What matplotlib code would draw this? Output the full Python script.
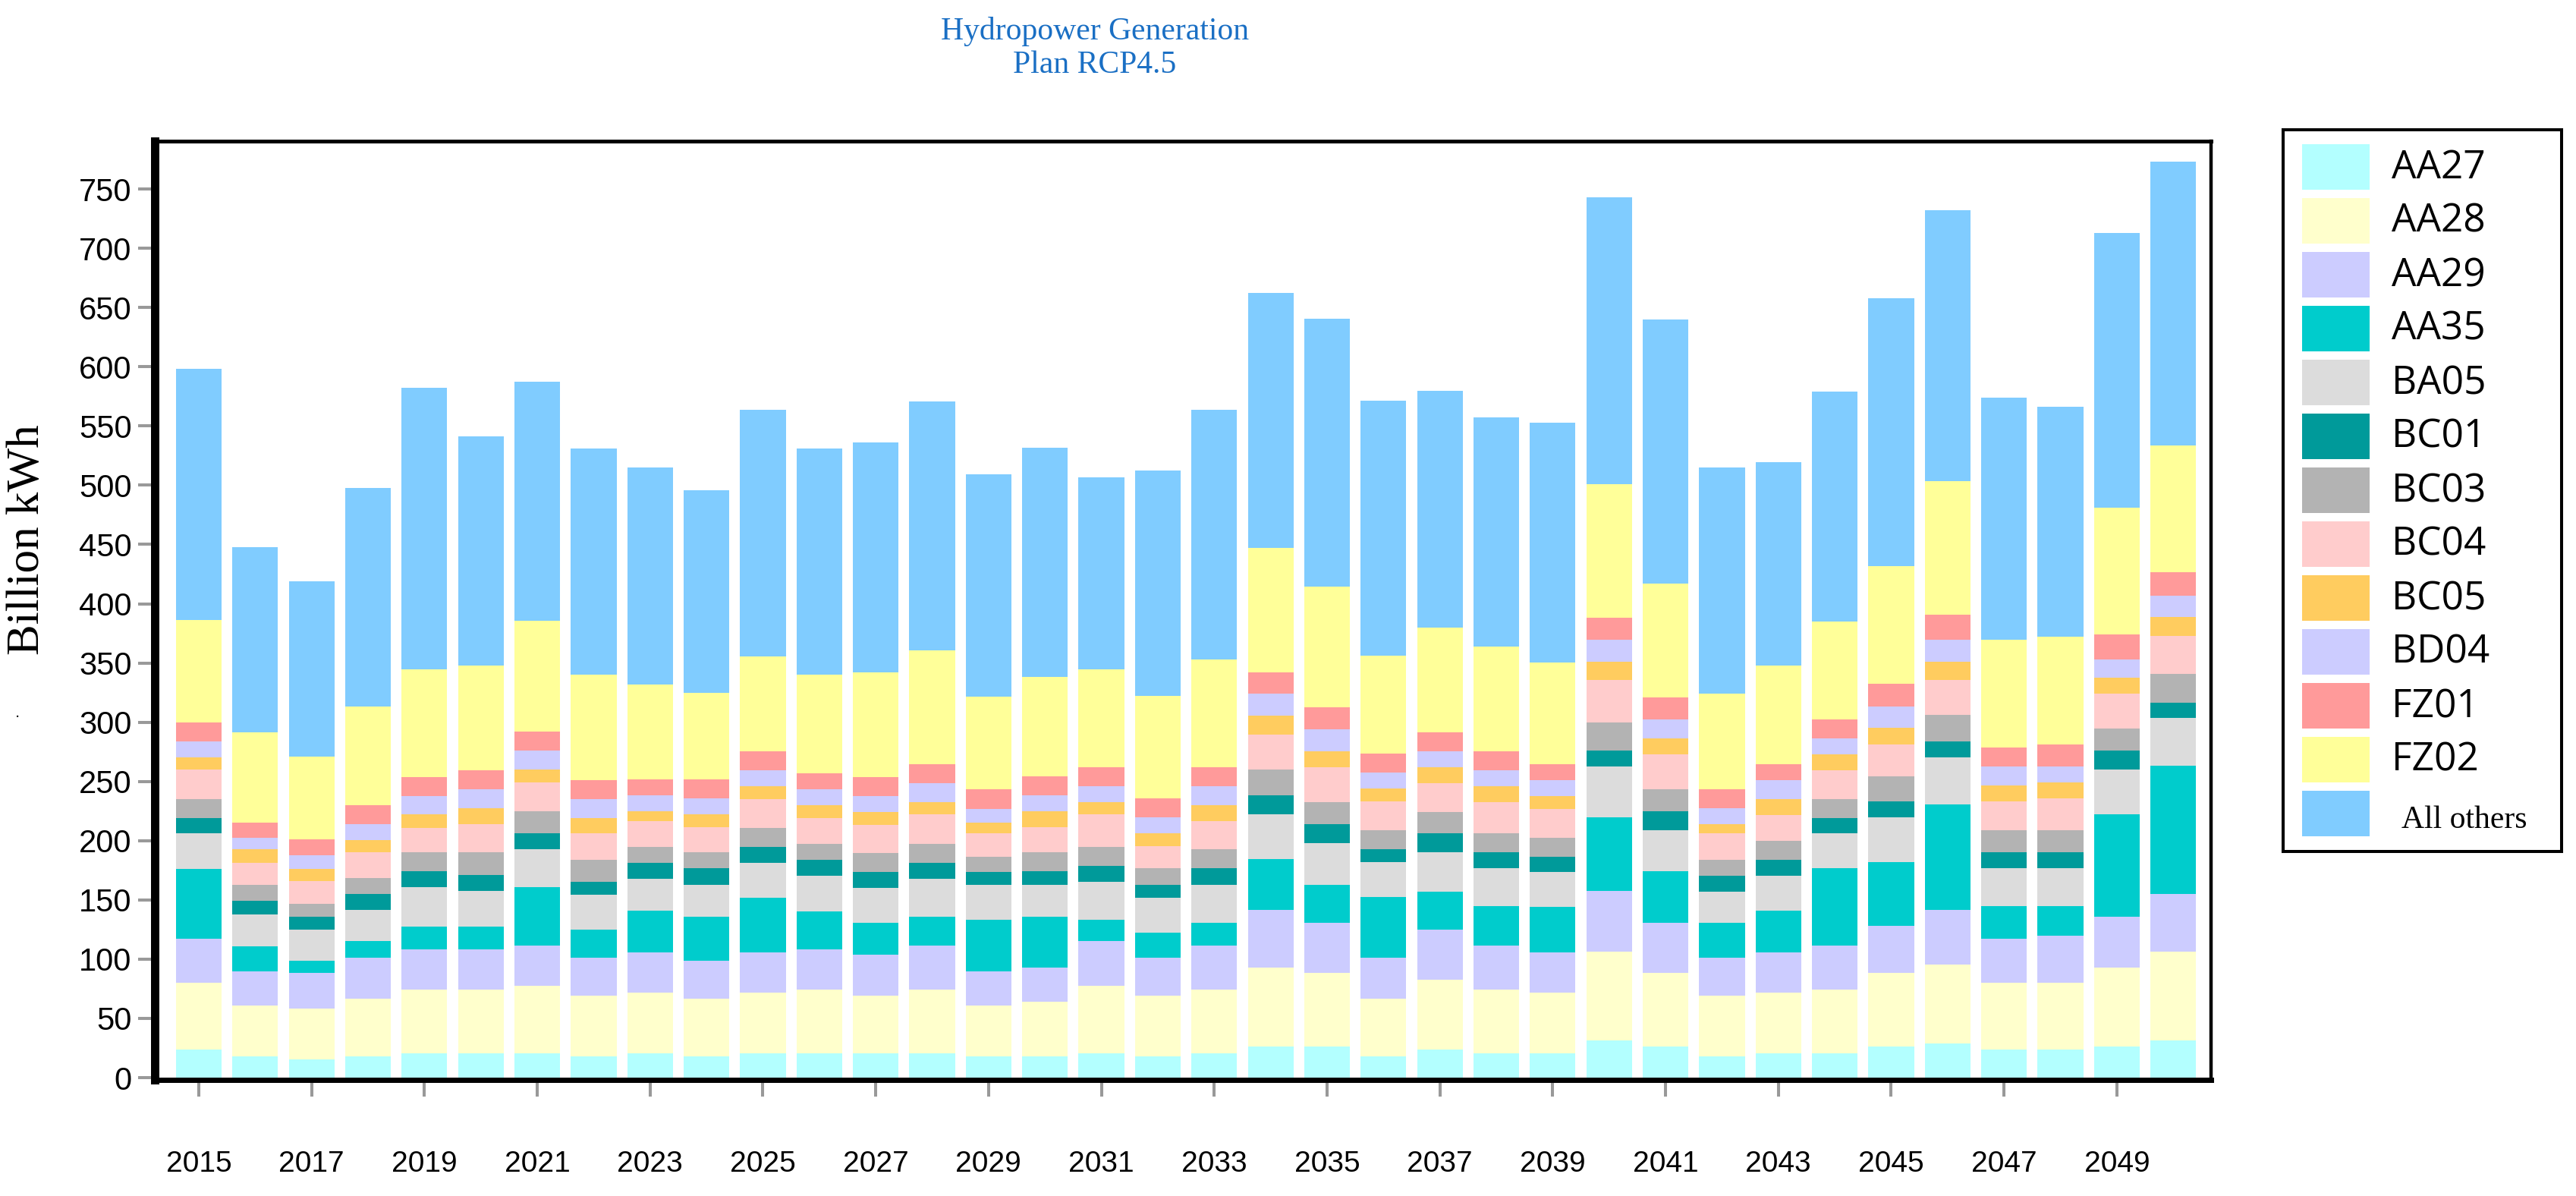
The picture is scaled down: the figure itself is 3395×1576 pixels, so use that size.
import numpy as np
import matplotlib
matplotlib.use('Agg')
import matplotlib.pyplot as plt
from matplotlib.patches import Rectangle

# data (billion kWh)
years = list(range(2015, 2051))
series = ['AA27', 'AA28', 'AA29', 'AA35', 'BA05', 'BC01', 'BC03',
          'BC04', 'BC05', 'BD04', 'FZ01', 'FZ02', 'All others']
colors = ['#b3ffff', '#ffffcc', '#ccccff', '#00cccc', '#dcdcdc', '#009a9a',
          '#b3b3b3', '#ffcccc', '#ffcc5f', '#ccccff', '#ff9a9a', '#ffff99', '#80ccff']

AA27 = [24, 18, 15.5, 18, 20.5, 20.5, 20.5, 18, 20.5, 18, 20.5, 20.5, 20.5, 20.5, 18, 18, 20.5, 18,
        20.5, 26.5, 26.5, 18, 24, 20.5, 20.5, 31.5, 26.5, 18, 20.5, 20.5, 26.5, 29, 24, 24, 26.5, 31.5]
AA28 = [56, 43, 43, 48.5, 54, 54, 57, 51.5, 51.5, 48.5, 51.5, 54, 49, 54, 43, 46, 57, 51.5,
        54, 66.5, 62, 48.5, 58.5, 54, 51.5, 75, 62, 51.5, 51.5, 54, 62, 66.5, 56, 56, 66.5, 75]
AA29 = [37, 29, 30, 35, 34, 34, 34, 31.5, 34, 32, 34, 34, 34, 37, 29, 29, 37.5, 31.5,
        37, 48.5, 42.5, 35, 42.5, 37, 34, 51, 42.5, 31.5, 34, 37, 39.5, 46, 37.5, 40, 43, 48.5]
AA35 = [59, 21, 10, 13.5, 19, 19, 49, 24, 35, 37.5, 46, 32, 27, 24.5, 43, 43, 18.5, 21.5,
        19.5, 43, 32, 51, 32, 33, 38, 62, 43, 29.5, 35, 65, 54, 89, 27, 24.5, 86, 108]
BA05 = [30, 27, 26.5, 26.5, 33, 30, 32, 29.5, 27, 27, 29.5, 30, 29.5, 32, 29.5, 27, 32, 29.5,
        32, 37.5, 35, 29.5, 33, 32, 29.5, 43, 35, 26.5, 29.5, 29.5, 37.5, 40, 32.5, 32.5, 38, 40.5]
BC01 = [13, 11, 11, 13.5, 13.5, 13.5, 13.5, 11, 13.5, 13.5, 13.5, 13.5, 13.5, 13.5, 11, 11, 13.5, 11,
        13.5, 16, 16, 11, 16, 13.5, 13, 13.5, 16, 13.5, 13.5, 13, 13.5, 13.5, 13.5, 13.5, 16, 13]
BC03 = [16, 13.5, 11, 13.5, 16, 19, 19, 18.5, 13.5, 13.5, 16, 13.5, 16, 16, 13, 16, 16, 13.5,
        16, 22, 18.5, 16, 18.5, 16, 16, 24, 18.5, 13.5, 16, 16, 21.5, 22, 18.5, 18.5, 18.5, 24.5]
BC04 = [25, 19, 19, 22, 21, 24, 24, 22, 21.5, 21.5, 24, 21.5, 24, 24.5, 19.5, 21.5, 27, 19,
        24, 29.5, 29.5, 24, 24, 26.5, 24.5, 35.5, 29.5, 22, 21.5, 24.5, 27, 29.5, 24, 26.5, 29.5, 31.5]
BC05 = [10, 11, 10, 10, 11, 13.5, 11, 13, 8.5, 11, 11, 11, 11, 10.5, 9, 13.5, 10.5, 11,
        13.5, 16, 13.5, 11, 13.5, 13.5, 10.5, 15.5, 13.5, 8, 13.5, 13.5, 13.5, 15.5, 13.5, 13.5, 13.5, 16]
BD04 = [14, 10, 11.5, 13.5, 15.5, 16, 16, 16, 13, 13, 13.5, 13.5, 13, 16, 11.5, 13, 13.5, 13,
        16, 18.5, 18.5, 13.5, 13.5, 13.5, 13.5, 18.5, 16, 13.5, 16, 13.5, 18.5, 18.5, 16, 13.5, 15.5, 18.5]
FZ01 = [16, 13, 13.5, 16, 16, 16, 16, 16, 13.5, 16, 16, 13.5, 16, 16, 17, 16, 16, 16,
        16, 18, 18.5, 16, 16, 16, 13.5, 18.5, 18.5, 16, 13.5, 16, 19, 21, 16, 18.5, 21, 19.5]
FZ02 = [86, 76, 70, 83, 91, 88.5, 93.5, 89, 80.5, 73, 80, 83, 88.5, 96, 78, 84, 82.5, 86.5,
        91, 105, 102, 82.5, 88.5, 88.5, 86, 113, 96, 80.5, 83, 82.5, 99, 113, 91, 91, 107, 107]
others = [212, 156, 148, 185, 237.5, 193.5, 202, 191, 183, 171.5, 208, 191, 194, 210, 188, 193.5, 162, 190.5,
          210.5, 215, 226, 215.5, 199.5, 193.5, 202, 242, 223, 191, 172, 194, 226, 228.5, 204.5, 194, 232, 239.5]

values = [AA27, AA28, AA29, AA35, BA05, BC01, BC03, BC04, BC05, BD04, FZ01, FZ02, others]

W, H = 3395, 1576
fig = plt.figure(figsize=(W / 100, H / 100), dpi=100)

# main plot area
ax = fig.add_axes([204 / W, 1 - 1423 / H, (2914 - 204) / W, (1423 - 186) / H])
x = np.arange(len(years))
bottom = np.zeros(len(years))
for name, col, vals in zip(series, colors, values):
    ax.bar(x, vals, width=0.81, bottom=bottom, color=col, linewidth=0, label=name)
    bottom += np.array(vals)

ax.set_xlim(-0.78, 35.67)
ax.set_ylim(-1.9, 790.4)
ax.set_yticks(np.arange(0, 751, 50))
ax.set_xticks(x[::2])
ax.set_xticklabels([str(y) for y in years[::2]])

for lab in ax.get_yticklabels():
    lab.set_fontfamily('Liberation Sans')
    lab.set_fontsize(30)
for lab in ax.get_xticklabels():
    lab.set_fontfamily('Liberation Sans')
    lab.set_fontsize(28)
ax.tick_params(axis='y', direction='out', length=15.8, width=2.9, color='#999999', pad=6)
ax.tick_params(axis='x', direction='out', length=15.8, width=2.9, color='#999999', pad=51)

ax.spines['left'].set_linewidth(7.9)
ax.spines['bottom'].set_linewidth(5)
ax.spines['top'].set_linewidth(3.6)
ax.spines['right'].set_linewidth(3.2)

# title and axis label
fig.text(1443 / W, 1 - 22 / H, 'Hydropower Generation\nPlan RCP4.5', ha='center', va='top',
         fontsize=30, family='Liberation Serif', color='#1a6fc4', linespacing=1.2)
fig.text(36 / W, 1 - 711 / H, 'Billion kWh', rotation=90, ha='center', va='center',
         fontsize=44, family='Liberation Serif')
fig.text(23 / W, 1 - 939 / H, '.', ha='center', va='center', fontsize=14)

# legend box
lax = fig.add_axes([3009 / W, 1 - 1122 / H, 367 / W, 951 / H])
lax.set_xlim(0, 367)
lax.set_ylim(951, 0)
lax.set_xticks([])
lax.set_yticks([])
for sp in lax.spines.values():
    sp.set_linewidth(2.9)
for i, (name, col) in enumerate(zip(series, colors)):
    top = 19 + 71 * i
    lax.add_patch(Rectangle((25, top), 89, 60, color=col, linewidth=0))
    if name == 'All others':
        lax.text(156, top + 49, name, va='baseline', ha='left', fontsize=30, family='Liberation Serif')
    else:
        lax.text(143, top + 45, name, va='baseline', ha='left', fontsize=37, family='Open Sans')

fig.savefig('out.png', dpi=100)
